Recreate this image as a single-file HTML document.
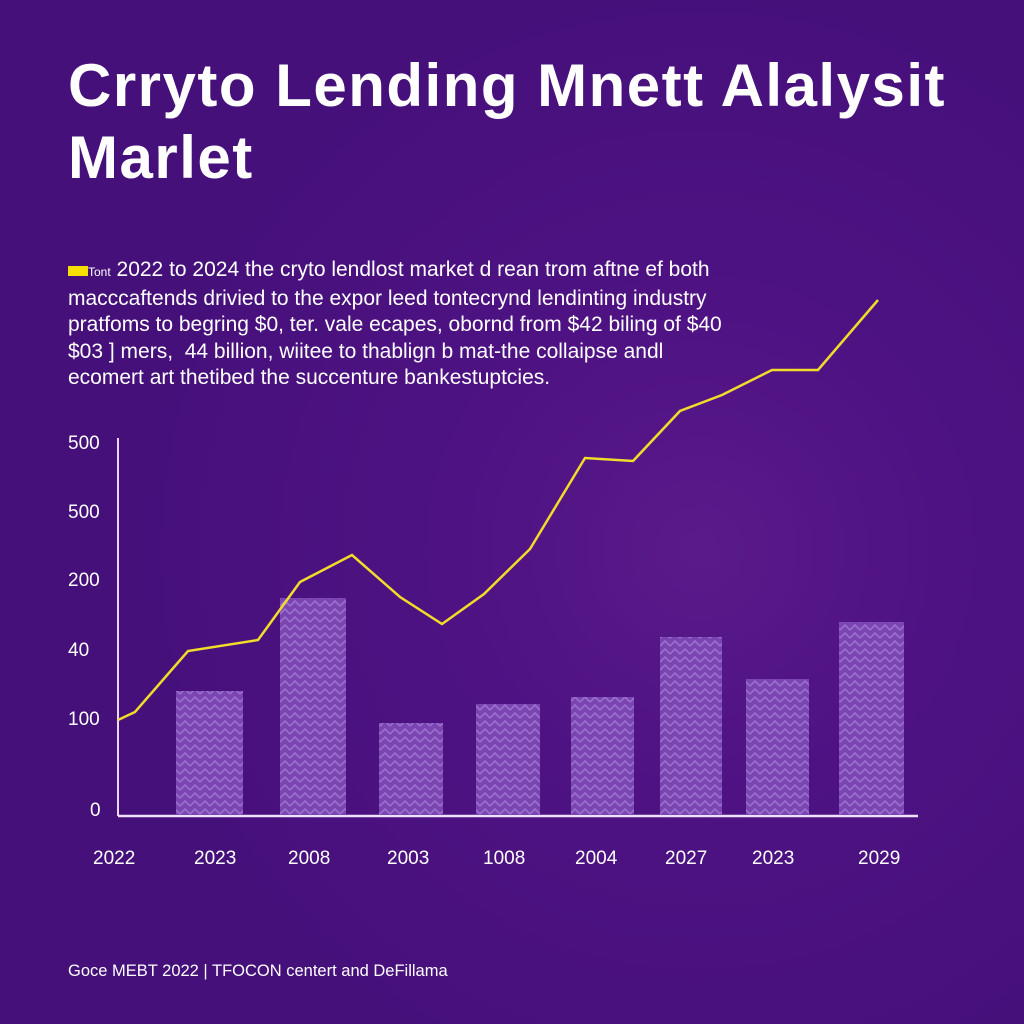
<!DOCTYPE html>
<html><head><meta charset="utf-8"><style>
body{margin:0;width:1024px;height:1024px;overflow:hidden;font-family:"Liberation Sans",sans-serif;}
.bg{position:absolute;inset:0;background:radial-gradient(circle at 700px 550px,#5a1a8a 0,#4e1283 250px,#45107a 600px),#46107c;}
h1{position:absolute;left:68px;top:50px;margin:0;color:#fff;font-size:60px;line-height:72px;font-weight:bold;letter-spacing:1.5px;}
.p{position:absolute;left:68px;top:257px;color:#fff;font-size:21px;line-height:26.5px;width:760px;}
.y{position:absolute;color:#fff;font-size:19px;}
.x{position:absolute;top:848px;color:#fff;font-size:19px;}
.f{position:absolute;left:68px;top:962px;color:#fff;font-size:16.5px;}
</style></head><body>
<div class="bg"></div>
<h1>Crryto Lending Mnett Alalysit<br>Marlet</h1>
<div class="p"><span style="display:inline-block;width:20px;height:10px;background:#f5e000;"></span><span style="font-size:12px">Tont</span> 2022 to 2024 the cryto lendlost market d rean trom aftne ef both<br>macccaftends drivied to the expor leed tontecrynd lendinting industry<br>pratfoms to begring $0, ter. vale ecapes, obornd from $42 biling of $40<br>$03 ] mers,&nbsp; 44 billion, wiitee to thablign b mat-the collaipse andl<br>ecomert art thetibed the succenture bankestuptcies.</div>
<div class="y" style="left:68px;top:433px">500</div>
<div class="y" style="left:68px;top:502px">500</div>
<div class="y" style="left:68px;top:570px">200</div>
<div class="y" style="left:68px;top:640px">40</div>
<div class="y" style="left:68px;top:709px">100</div>
<div class="y" style="left:90px;top:800px">0</div>
<svg width="1024" height="1024" style="position:absolute;left:0;top:0">
<defs><pattern id="z" width="10" height="8" patternUnits="userSpaceOnUse">
<rect width="10" height="8" fill="#7a45b0"/>
<path d="M0 6 L5 1 L10 6" stroke="#9a6fcf" stroke-width="1.6" fill="none"/></pattern></defs>
<line x1="118" y1="438" x2="118" y2="816" stroke="#e8d8ff" stroke-width="2"/>
<line x1="118" y1="816" x2="918" y2="816" stroke="#f0e0ff" stroke-width="2.5"/>
<g fill="url(#z)">
<rect x="176" y="691" width="67" height="124"/>
<rect x="280" y="598" width="66" height="217"/>
<rect x="379" y="723" width="64" height="92"/>
<rect x="476" y="704" width="64" height="111"/>
<rect x="571" y="697" width="63" height="118"/>
<rect x="660" y="637" width="62" height="178"/>
<rect x="746" y="679" width="63" height="136"/>
<rect x="839" y="622" width="65" height="193"/>
</g>
<polyline fill="none" stroke="#f2dc2a" stroke-width="2.5" points="118,720 135,712 188,651 258,640 300,582 352,555 400,597 442,624 484,594 530,549 585,458 633,461 680,411 722,395 772,370 818,370 878,300"/>
</svg>
<div class="x" style="left:93px">2022</div>
<div class="x" style="left:194px">2023</div>
<div class="x" style="left:288px">2008</div>
<div class="x" style="left:387px">2003</div>
<div class="x" style="left:483px">1008</div>
<div class="x" style="left:575px">2004</div>
<div class="x" style="left:665px">2027</div>
<div class="x" style="left:752px">2023</div>
<div class="x" style="left:858px">2029</div>
<div class="f">Goce MEBT 2022 | TFOCON centert and DeFillama</div>
</body></html>
